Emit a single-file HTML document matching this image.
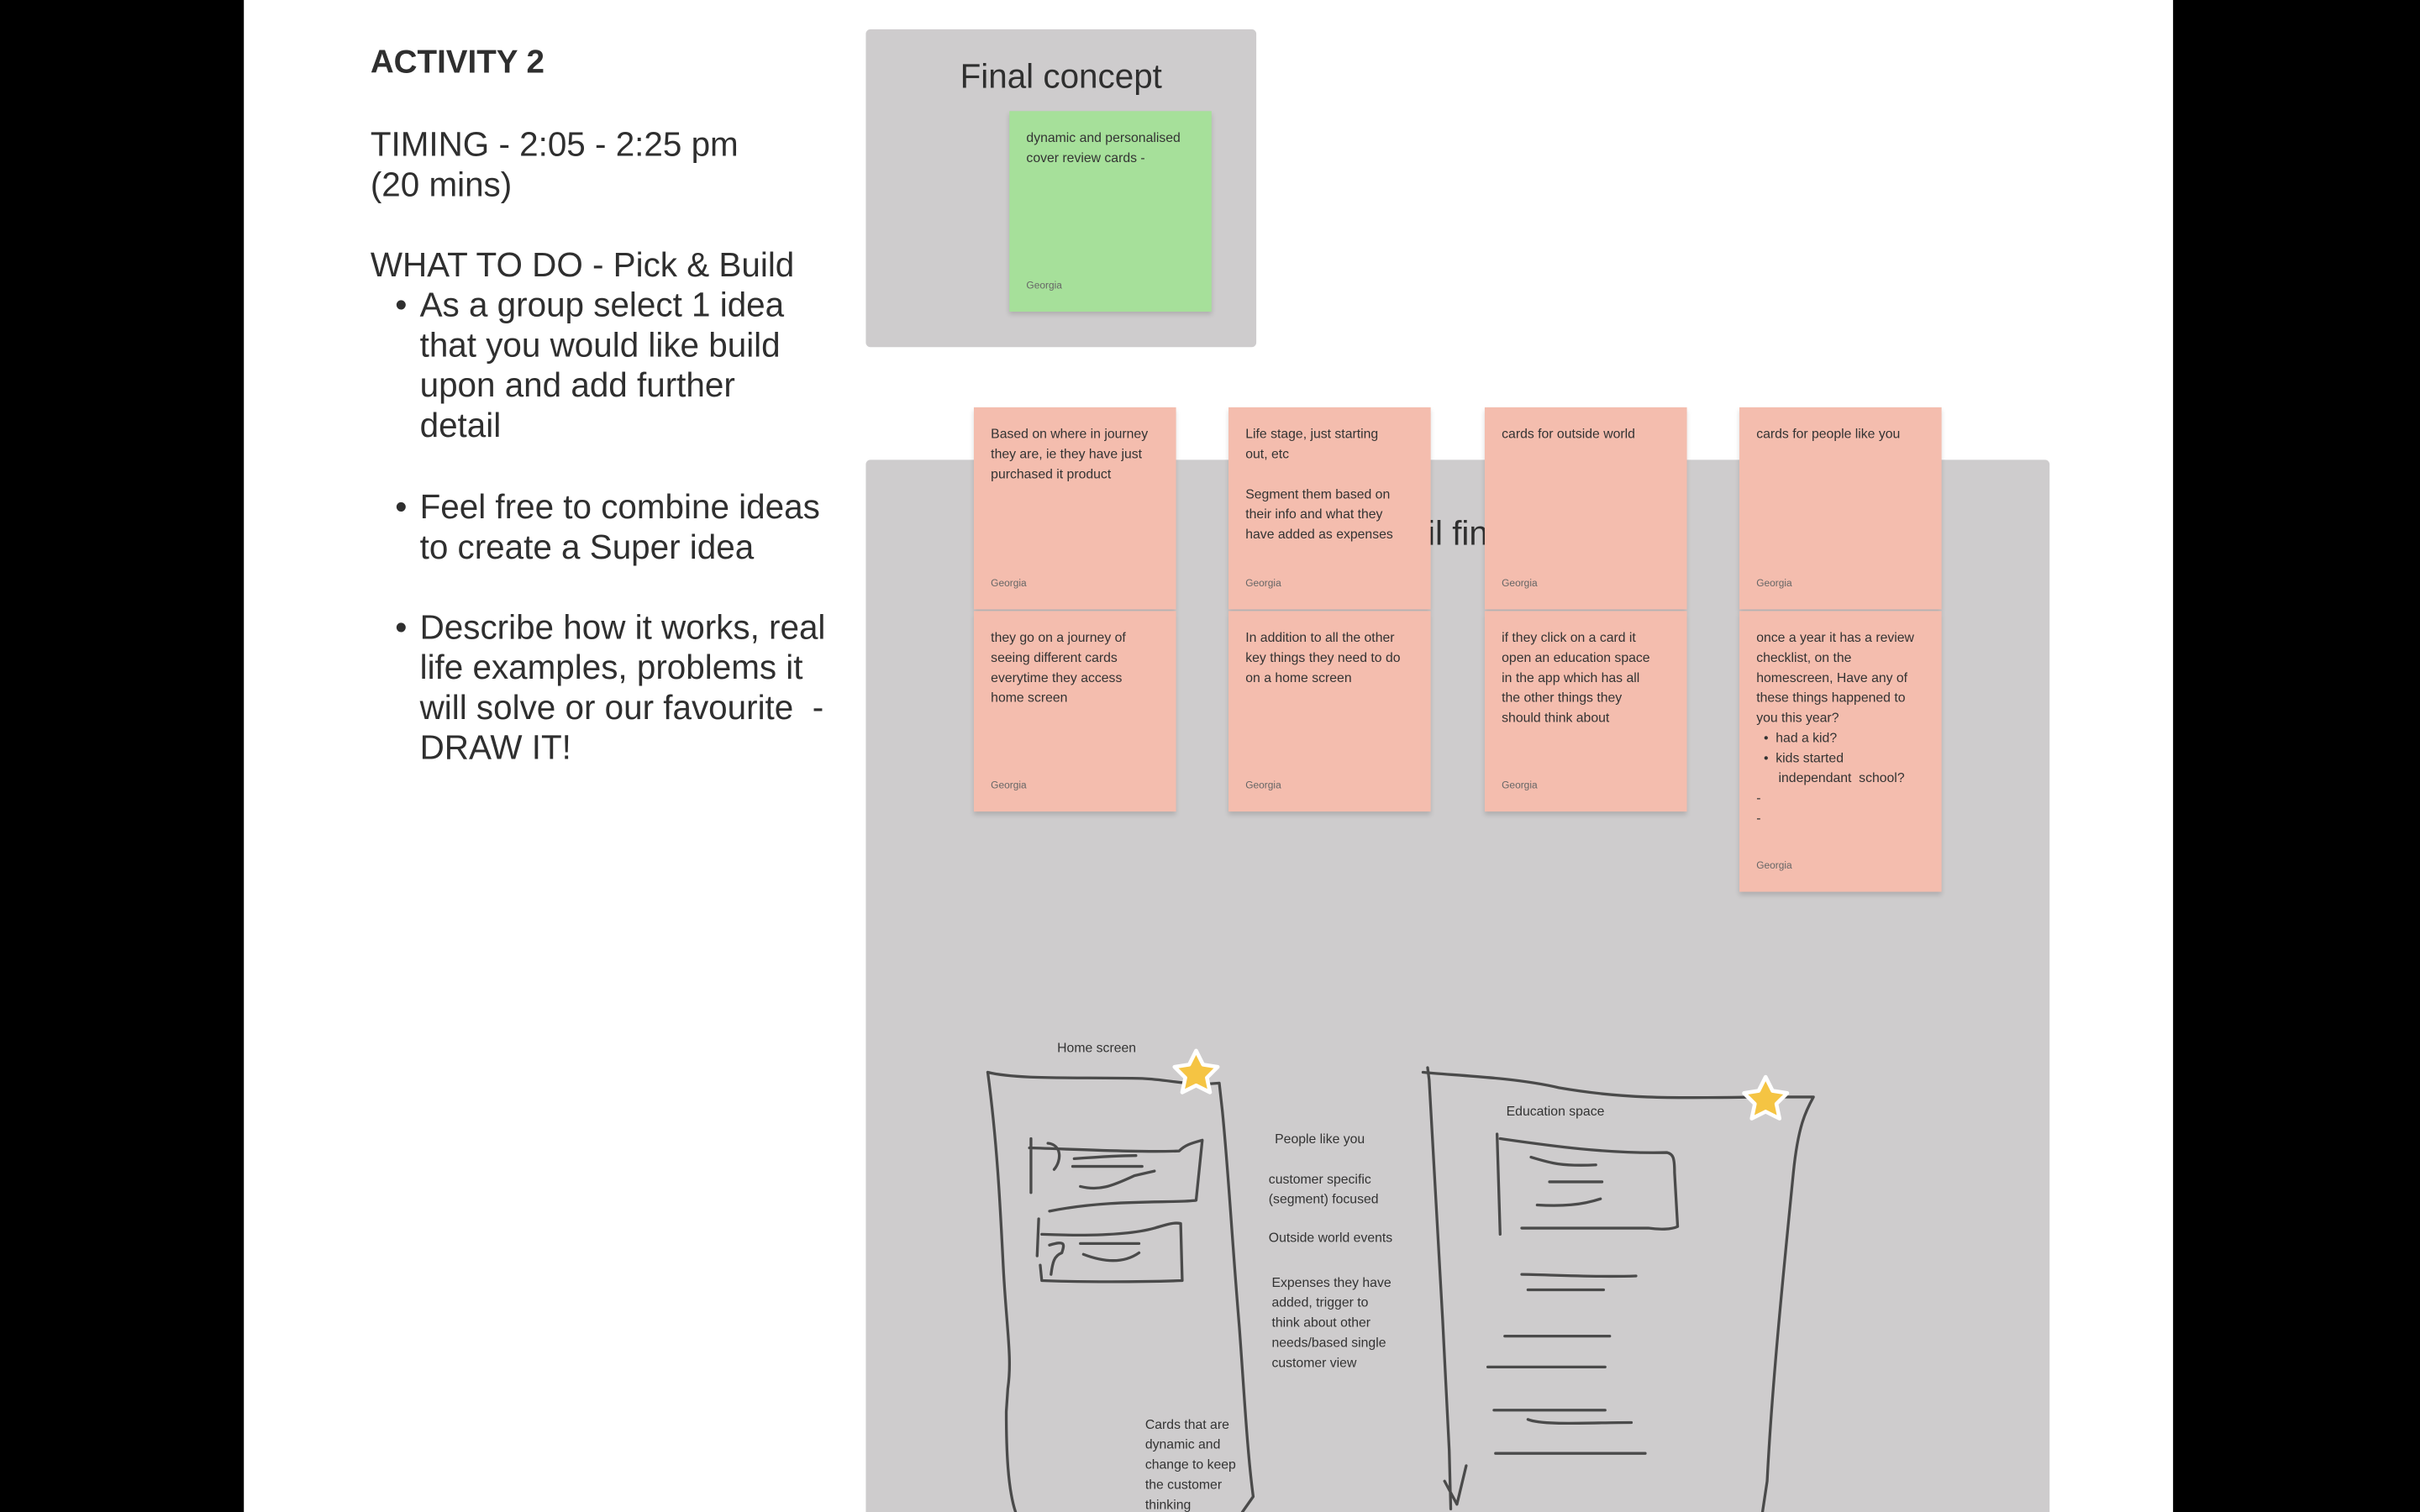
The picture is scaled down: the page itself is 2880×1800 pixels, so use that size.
<!DOCTYPE html>
<html><head><meta charset="utf-8">
<style>
html,body{margin:0;padding:0;background:#000;width:2880px;height:1800px;overflow:hidden}
#w{position:absolute;left:0;top:0;width:1568px;height:980px;overflow:hidden;transform:scale(1.836735);transform-origin:0 0;font-family:"Liberation Sans",sans-serif;color:#2f2f2f}
.a{position:absolute;white-space:nowrap}
.big{font-size:22px;line-height:26px}
.frame{position:absolute;background:#cecccd;border-radius:3px}
.st{position:absolute;width:131px;background:#f4bdae;box-shadow:0 2px 3px rgba(0,0,0,.15);font-size:8.6px;line-height:13px;color:#333}
.st .t{position:absolute;left:11px;top:11px;white-space:nowrap}
.st .g{position:absolute;left:11px;bottom:10px;font-size:6.5px;color:#666}
.lab{position:absolute;font-size:8.6px;line-height:13px;color:#333;white-space:nowrap}
</style></head><body>
<div id="w">
<div style="position:absolute;left:158px;top:0;width:1250px;height:980px;background:#fff"></div>

<div class="a" style="left:240px;top:29px;font-size:21px;font-weight:bold">ACTIVITY 2</div>
<div class="a big" style="left:240px;top:81px">TIMING - 2:05 - 2:25 pm<br>(20 mins)</div>
<div class="a big" style="left:240px;top:159px">WHAT TO DO - Pick &amp; Build</div>
<div class="a big" style="left:256px;top:185px">•</div>
<div class="a big" style="left:272px;top:185px">As a group select 1 idea<br>that you would like build<br>upon and add further<br>detail</div>
<div class="a big" style="left:256px;top:316px">•</div>
<div class="a big" style="left:272px;top:316px">Feel free to combine ideas<br>to create a Super idea</div>
<div class="a big" style="left:256px;top:394px">•</div>
<div class="a big" style="left:272px;top:394px">Describe how it works, real<br>life examples, problems it<br>will solve or our favourite&nbsp; -<br>DRAW IT!</div>

<div class="frame" style="left:561px;top:19px;width:253px;height:206px"></div>
<div class="a" style="left:561px;width:253px;text-align:center;top:37px;font-size:22px">Final concept</div>
<div class="st" style="left:654px;top:72px;height:130px;background:#a6e09a"><div class="t">dynamic and personalised<br>cover review cards -</div><div class="g">Georgia</div></div>

<div class="frame" style="left:561px;top:298px;width:767px;height:682px;border-radius:3px 3px 0 0"></div>
<div class="a" style="left:588px;width:767px;text-align:center;top:333px;font-size:22px">Detail final concept</div>

<div class="st" style="left:631px;top:264px;height:131px"><div class="t">Based on where in journey<br>they are, ie they have just<br>purchased it product</div><div class="g">Georgia</div></div>
<div class="st" style="left:796px;top:264px;height:131px"><div class="t">Life stage, just starting<br>out, etc<br><br>Segment them based on<br>their info and what they<br>have added as expenses</div><div class="g">Georgia</div></div>
<div class="st" style="left:962px;top:264px;height:131px"><div class="t">cards for outside world</div><div class="g">Georgia</div></div>
<div class="st" style="left:1127px;top:264px;height:131px"><div class="t">cards for people like you</div><div class="g">Georgia</div></div>

<div class="st" style="left:631px;top:396px;height:130px"><div class="t">they go on a journey of<br>seeing different cards<br>everytime they access<br>home screen</div><div class="g">Georgia</div></div>
<div class="st" style="left:796px;top:396px;height:130px"><div class="t">In addition to all the other<br>key things they need to do<br>on a home screen</div><div class="g">Georgia</div></div>
<div class="st" style="left:962px;top:396px;height:130px"><div class="t">if they click on a card it<br>open an education space<br>in the app which has all<br>the other things they<br>should think about</div><div class="g">Georgia</div></div>
<div class="st" style="left:1127px;top:396px;height:182px"><div class="t">once a year it has a review<br>checklist, on the<br>homescreen, Have any of<br>these things happened to<br>you this year?<br>&nbsp;&nbsp;• &nbsp;had a kid?<br>&nbsp;&nbsp;• &nbsp;kids started<br>&nbsp;&nbsp;&nbsp;&nbsp;&nbsp;&nbsp;independant&nbsp; school?<br>-<br>-</div><div class="g">Georgia</div></div>

<svg style="position:absolute;left:0;top:0" width="1568" height="980" fill="none" stroke="#4a4a4a" stroke-width="1.8" stroke-linecap="round" stroke-linejoin="round">
<path d="M640 695 C660 700 700 698 740 699 C760 700 770 704 790 702 L792 720 C796 760 798 800 803 860 C806 900 808 940 812 970 L805 980"/>
<path d="M640 695 C646 740 648 780 650 820 C652 860 656 880 653 900 L652 915 C652 940 653 965 658 980"/>
<path d="M668 738 L668 773 M667 744 C700 745 740 747 764 746 C768 742 772 741 779 739 L775 778 C760 780 720 777 680 785"/>
<path d="M679 741 C688 742 688 752 683 758 M696 751 C710 750 725 749 736 749 M695 756 L740 756 M700 769 C712 772 720 769 735 762 L748 759"/>
<path d="M673 790 L672 814 M675 800 C700 801 730 801 748 796 C755 794 760 792 765 793 L766 830 C740 831 700 831 675 830 L674 820"/>
<path d="M680 807 C690 804 690 806 688 812 C683 814 682 818 681 826 M700 806 L738 806 M702 813 C715 818 728 819 738 812"/>
<path d="M925 692 L926 700 C930 760 935 860 939 940 L940 978 M936 960 L944 975 L950 950"/>
<path d="M922 695 C940 697 980 698 1010 705 C1050 712 1080 712 1140 711 L1175 711 C1170 720 1165 730 1162 760 C1155 830 1148 900 1145 960 L1142 980"/>
<path d="M970 735 L972 800 M972 738 C1000 742 1040 748 1080 747 C1084 748 1085 750 1085 760 L1087 795 C1083 797 1075 797 1068 796 L986 796"/>
<path d="M992 750 C1005 754 1012 756 1034 755 M1004 766 L1038 766 M996 781 C1012 782 1025 781 1037 777"/>
<path d="M986 826 C1000 826 1030 828 1060 827 M990 836 L1039 836 M975 866 L1043 866 M964 886 L1040 886 M968 914 L1040 914 M990 920 C1000 924 1030 922 1057 922 M969 942 L1066 942"/>
</svg>

<svg style="position:absolute;left:0;top:0" width="1568" height="980">
<polygon points="775,681 779.5,690 789,691.5 782,698.5 784,708 775,703.5 766,708 768,698.5 761,691.5 770.5,690" fill="#f5c443" stroke="#fff" stroke-width="2.5" stroke-linejoin="round"/>
<polygon points="1144,698 1148.5,707 1158,708.5 1151,715.5 1153,725 1144,720.5 1135,725 1137,715.5 1130,708.5 1139.5,707" fill="#f5c443" stroke="#fff" stroke-width="2.5" stroke-linejoin="round"/>
</svg>

<div class="lab" style="left:685px;top:673px">Home screen</div>
<div class="lab" style="left:976px;top:714px">Education space</div>
<div class="lab" style="left:826px;top:732px">People like you</div>
<div class="lab" style="left:822px;top:758px">customer specific<br>(segment) focused</div>
<div class="lab" style="left:822px;top:796px">Outside world events</div>
<div class="lab" style="left:824px;top:825px">Expenses they have<br>added, trigger to<br>think about other<br>needs/based single<br>customer view</div>
<div class="lab" style="left:742px;top:917px">Cards that are<br>dynamic and<br>change to keep<br>the customer<br>thinking</div>
</div>
</body></html>
